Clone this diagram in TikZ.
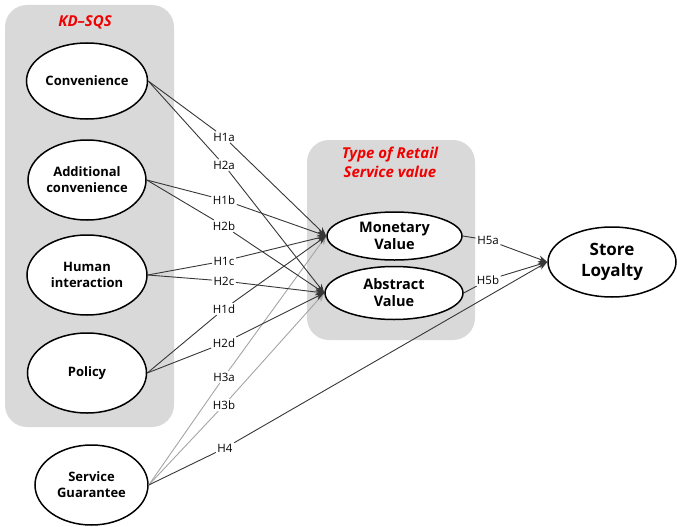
\documentclass[tikz,border=0pt]{standalone}
\usepackage{fontspec}
\setmainfont{Open Sans}
\usetikzlibrary{shapes.geometric,arrows.meta}
\definecolor{boxgray}{RGB}{217,217,217}
\definecolor{lineDark}{RGB}{55,55,55}
\definecolor{lineLight}{RGB}{165,165,165}
\definecolor{titleRed}{RGB}{240,0,0}
\begin{document}
\begin{tikzpicture}[x=1pt,y=-1pt,
  grp/.style={fill=boxgray, draw=none, rounded corners=22pt},
  construct/.style={ellipse, draw=black, line width=1.5pt, fill=white, inner sep=0pt,
    font=\bfseries\fontsize{13}{16}\selectfont, align=center},
  bigconstruct/.style={construct, font=\bfseries\fontsize{14.5}{17}\selectfont},
  hugeconstruct/.style={construct, font=\bfseries\fontsize{17}{21}\selectfont},
  grptitle/.style={text=titleRed, font=\bfseries\itshape\fontsize{15}{19}\selectfont, align=center, inner sep=0pt},
  hyp/.style={inner sep=1.5pt, font=\fontsize{11.5}{13}\selectfont},
  link/.style={draw=lineDark, line width=0.9pt, -{Stealth[length=9pt,width=7pt]}},
  lightlink/.style={link, draw=lineLight, -{Stealth[length=9pt,width=7pt,fill=lineLight]}},
]
\useasboundingbox (0,0) rectangle (677,527);
% group boxes
\fill[grp] (5,5) rectangle (174,427);
\fill[grp] (307,140) rectangle (475,340);
\node[grptitle] (kdtitle) at (85,22) {KD--SQS};
\node[grptitle] (tytitle) at (390,162) {Type of Retail\\Service value};
% constructs
\node[construct, minimum width=121pt, minimum height=76pt] (conv) at (87,81) {Convenience};
\node[construct, minimum width=118pt, minimum height=80pt] (addc) at (87,180) {Additional\\convenience};
\node[construct, minimum width=120pt, minimum height=80pt] (human) at (87,275) {Human\\interaction};
\node[construct, minimum width=119pt, minimum height=80pt] (policy) at (87,373) {Policy};
\node[construct, minimum width=113pt, minimum height=80pt] (sg) at (91.5,485) {Service\\Guarantee};
\node[bigconstruct, minimum width=135pt, minimum height=48pt] (mon) at (394.5,236) {Monetary\\Value};
\node[bigconstruct, minimum width=138pt, minimum height=53pt] (abs) at (394,293) {Abstract\\Value};
\node[hugeconstruct, minimum width=128pt, minimum height=70pt] (sl) at (612,262) {Store\\Loyalty};
% hypothesis labels
\node[hyp] (h1a) at (224,137) {H1a};
\node[hyp] (h2a) at (224,165) {H2a};
\node[hyp] (h1b) at (224,200) {H1b};
\node[hyp] (h2b) at (224,226) {H2b};
\node[hyp] (h1c) at (224,261) {H1c};
\node[hyp] (h2c) at (224,281) {H2c};
\node[hyp] (h1d) at (224,309) {H1d};
\node[hyp] (h2d) at (224,343) {H2d};
\node[hyp] (h3a) at (224,377) {H3a};
\node[hyp] (h3b) at (224,405) {H3b};
\node[hyp] (h4) at (225,448) {H4};
\node[hyp] (h5a) at (488,240) {H5a};
\node[hyp] (h5b) at (488,280) {H5b};
% connectors
\draw[lightlink] (sg.east) -- (h3a) -- (mon.west);
\draw[lightlink] (sg.east) -- (h3b) -- (abs.west);
\draw[link] (conv.east) -- (h1a) -- (mon.west);
\draw[link] (conv.east) -- (h2a) -- (abs.west);
\draw[link] (addc.east) -- (h1b) -- (mon.west);
\draw[link] (addc.east) -- (h2b) -- (abs.west);
\draw[link] (human.east) -- (h1c) -- (mon.west);
\draw[link] (human.east) -- (h2c) -- (abs.west);
\draw[link] (policy.east) -- (h1d) -- (mon.west);
\draw[link] (policy.east) -- (h2d) -- (abs.west);
\draw[link] (sg.east) -- (h4) -- (sl.west);
\draw[link] (mon.east) -- (h5a) -- (sl.west);
\draw[link] (abs.east) -- (h5b) -- (sl.west);
\end{tikzpicture}
\end{document}
